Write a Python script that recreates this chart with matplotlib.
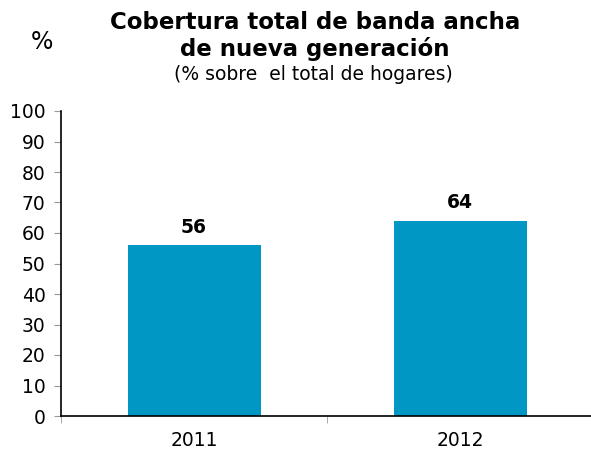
import matplotlib.pyplot as plt

years = ["2011", "2012"]
coverage = [56, 64]

W, H = 591, 455
fig = plt.figure(figsize=(W / 100, H / 100), dpi=100)
ax = fig.add_axes([61 / W, 39 / H, 532 / W, 305 / H])

xpos = [0.5, 1.5]
ax.bar(xpos, coverage, width=0.5, color="#0097C4")
for x, v in zip(xpos, coverage):
    ax.annotate(str(v), (x, v), xytext=(0, 6), textcoords="offset points",
                ha="center", va="bottom", fontsize=13.5, fontweight="bold")

ax.set_xlim(0, 2)
ax.set_ylim(0, 100)
ax.set_yticks(range(0, 101, 10))
ax.set_xticks(xpos)
ax.set_xticklabels(years)
ax.set_xticks([0, 1, 2], minor=True)
ax.tick_params(axis="x", which="major", length=0, pad=11, labelsize=13.5)
ax.tick_params(axis="x", which="minor", length=5, color="#999999", direction="out")
ax.tick_params(axis="y", length=5, color="#999999", labelsize=13.5, pad=6)
for s in ["top", "right"]:
    ax.spines[s].set_visible(False)
ax.spines["left"].set_linewidth(1.2)
ax.spines["bottom"].set_linewidth(1.2)

fig.text(315 / W, 1 - 36 / H, "Cobertura total de banda ancha\nde nueva generación",
         ha="center", va="center", fontsize=16.5, fontweight="bold", linespacing=1.2)
fig.text(313 / W, 1 - 75 / H, "(% sobre  el total de hogares)",
         ha="center", va="center", fontsize=13.5)
fig.text(42 / W, 1 - 42 / H, "%", ha="center", va="center", fontsize=17)

fig.savefig("out.png", dpi=100)
